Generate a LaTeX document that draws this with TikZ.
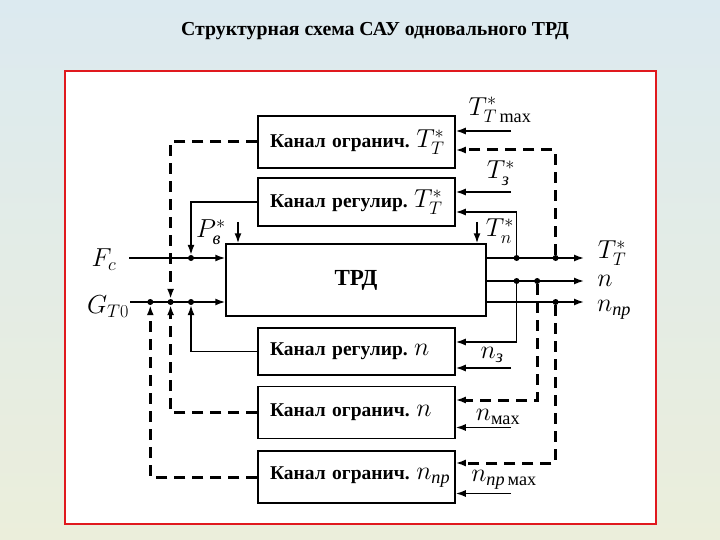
\RequirePackage{fix-cm}
\documentclass[tikz,border=0pt]{standalone}
\usepackage{amsmath}
\usepackage{fontspec}
\setmainfont{LiberationSerif}[Extension=.ttf,UprightFont=*-Regular,BoldFont=*-Bold,ItalicFont=*-Italic,BoldItalicFont=*-BoldItalic]
\usetikzlibrary{arrows.meta}

\newcommand{\mlab}[1]{{\fontsize{26}{28}\selectfont$#1$}}
\newcommand{\cyr}[1]{\text{\normalfont\itshape #1}}

\begin{document}
\begin{tikzpicture}[x=1pt,y=-1pt,>={Latex[length=10pt,width=7pt]},
    kbox/.style={draw,line width=1.5pt,minimum width=197pt,minimum height=#1,text width=196pt,align=left,inner sep=0pt,execute at begin node={\hspace*{11.5pt}},font=\fontsize{19.5}{22}\selectfont\bfseries},
    sig/.style={line width=1.5pt},
    dsh/.style={line width=3pt,dash pattern=on 11pt off 7pt},
    lbl/.style={font=\fontsize{26}{28}\selectfont},
    dot/.style={circle,fill,inner sep=0pt,minimum size=6pt}]
    \shade[top color={rgb,255:red,220;green,234;blue,240},middle color={rgb,255:red,242;green,234;blue,223},bottom color={rgb,255:red,235;green,238;blue,219}] (0,0) rectangle (720,540);
    \useasboundingbox (0,0) rectangle (720,540);
    \filldraw [fill=white,draw={rgb,255:red,224;green,25;blue,30},line width=2pt] (65,71) rectangle (656,524);
    \node [font=\fontsize{19.8}{22}\selectfont\bfseries] (title) at (375,31) {Структурная схема САУ одновального ТРД};

    \node [kbox=52pt] (ogrT) at (356.5,142) {Канал огранич.~\mlab{T^*_T}};
    \node [kbox=48pt] (regT) at (356.5,202) {Канал регулир.~\mlab{T^*_T}};
    \node [draw,sig,minimum width=260pt,minimum height=72pt,font=\fontsize{23}{25}\selectfont\bfseries] (trd) at (356,280) {ТРД};
    \node [kbox=47pt] (regn) at (356.5,351.5) {Канал регулир.~\mlab{n}};
    \node [kbox=52pt] (ogrn) at (356.5,412.5) {Канал огранич.~\mlab{n}};
    \node [kbox=52pt] (ogrnp) at (356.5,477) {Канал огранич.~\mlab{n_{\cyr{пр}}}};

    \coordinate (fc0) at (129,258);
    \coordinate (gt0) at (130,302);
    \coordinate (outT) at (584,258);
    \coordinate (outn) at (584,281);
    \coordinate (outnp) at (584,302);
    \node [dot] (jF) at (191,258) {};
    \node [dot] (jG1) at (150.3,302) {};
    \node [dot] (jG2) at (170.6,302) {};
    \node [dot] (jG3) at (191,302) {};
    \node [dot] (jT1) at (516.6,258) {};
    \node [dot] (jT2) at (555.6,258) {};
    \node [dot] (jn1) at (516.6,281) {};
    \node [dot] (jn2) at (537.2,281) {};
    \node [dot] (jnp) at (555.6,302) {};

    \draw [sig,->] (fc0) -- (trd.west |- fc0);
    \draw [sig,->] (gt0) -- (trd.west |- gt0);
    \draw [sig,->] (trd.east |- outT) -- (outT);
    \draw [sig,->] (trd.east |- outn) -- (outn);
    \draw [sig,->] (trd.east |- outnp) -- (outnp);

    \draw [sig,->] (regT.west) -| (jF.north);
    \draw [sig,->] (regn.west) -| (jG3.south);
    \draw [dsh,->] (ogrT.west) -| (jG2.north);
    \draw [dsh,->] (ogrn.west) -| (jG2.south);
    \draw [dsh,->] (ogrnp.west) -| (jG1.south);

    \coordinate (ttmax) at (511,131);
    \coordinate (tz) at (511,192);
    \coordinate (nz) at (511,368);
    \coordinate (nmax) at (511,427.5);
    \coordinate (npmax) at (511,493.5);
    \draw [sig,->] (ttmax) -- (ogrT.east |- ttmax);
    \draw [dsh,->] (jT2) |- ([yshift=-8pt]ogrT.east);
    \draw [sig,->] (tz) -- (regT.east |- tz);
    \draw [sig,->] (jT1) |- ([yshift=-10pt]regT.east);
    \draw [sig,->] (jn1) |- ([yshift=9.5pt]regn.east);
    \draw [sig,->] (nz) -- (regn.east |- nz);
    \draw [dsh,->] (jn2) |- ([yshift=12.5pt]ogrn.east);
    \draw [sig,->] (nmax) -- (ogrn.east |- nmax);
    \draw [dsh,->] (jnp) |- ([yshift=14pt]ogrnp.east);
    \draw [sig,->] (npmax) -- (ogrnp.east |- npmax);

    \coordinate (pb) at (238,222);
    \coordinate (tn) at (477,222);
    \draw [sig,->] (pb) -- (pb |- trd.north);
    \draw [sig,->] (tn) -- (tn |- trd.north);

    \node [lbl] (lTmax) at (500,110) {$T^*_{T\,\text{max}}$};
    \node [lbl] (lTz) at (501,173) {$T^*_{\cyr{з}}$};
    \node [lbl] (lTn) at (500,231) {$T^*_n$};
    \node [lbl] (lPb) at (211,232) {$P^*_{\cyr{в}}$};
    \node [lbl] (lnz) at (492,355) {$n_{\cyr{з}}$};
    \node [lbl] (lnmax) at (498,417) {$n_{\text{мах}}$};
    \node [lbl] (lnpmax) at (504,480) {$n_{\cyr{пр}\,\text{мах}}$};
    \node [lbl] (lFc) at (104,260) {$F_c$};
    \node [lbl] (lGt) at (108,307) {$G_{T0}$};
    \node [lbl] (loT) at (612,253) {$T^*_T$};
    \node [lbl] (lon) at (605,281) {$n$};
    \node [lbl] (lonp) at (614,310) {$n_{\cyr{пр}}$};
\end{tikzpicture}
\end{document}
